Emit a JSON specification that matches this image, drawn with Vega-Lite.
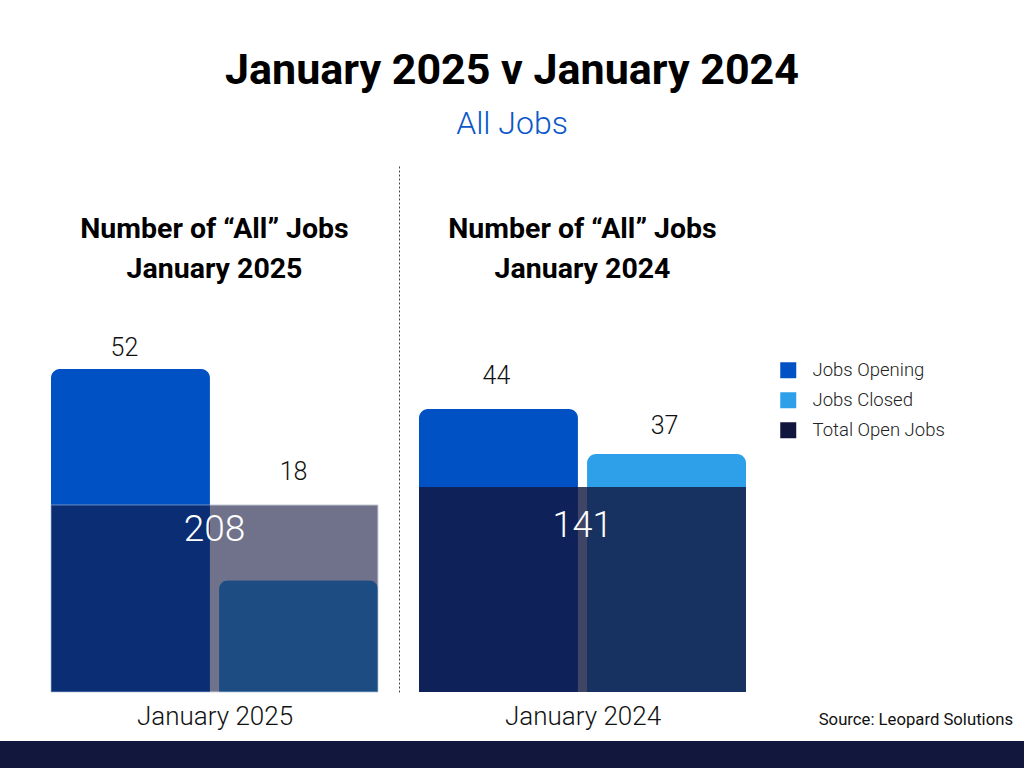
{
  "$schema": "https://vega.github.io/schema/vega-lite/v6.json",
  "padding": {"top": 50, "left": 0, "right": 0, "bottom": 0},
  "background": "white",
  "config": {
    "font": "Roboto",
    "view": {"stroke": null},
    "axis": {"grid": false}
  },
  "datasets": {
    "jobs2025": [
      {"series": "Jobs Opening", "value": 52},
      {"series": "Jobs Closed", "value": 18}
    ],
    "total2025": [{"series": "Total Open Jobs", "value": 208}],
    "jobs2024": [
      {"series": "Jobs Opening", "value": 44},
      {"series": "Jobs Closed", "value": 37}
    ],
    "total2024": [{"series": "Total Open Jobs", "value": 141}],
    "footer": [{"band": "footer"}]
  },
  "title": {
    "text": "January 2025 v January 2024",
    "subtitle": "All Jobs",
    "anchor": "middle",
    "frame": "group",
    "dx": 512,
    "fontSize": 43,
    "fontWeight": "bold",
    "color": "#000000",
    "subtitleFontSize": 32,
    "subtitleFontWeight": 300,
    "subtitleColor": "#0b57c9",
    "subtitlePadding": 16,
    "offset": 25
  },
  "vconcat": [
    {
      "hconcat": [
        {
          "data": {"name": "footer"},
          "width": 30,
          "height": 527,
          "mark": {"type": "text"},
          "encoding": {}
        },
        {
          "width": 327,
          "height": 527,
          "title": {
            "text": ["Number of “All” Jobs", "January 2025"],
            "fontSize": 28.5,
            "fontWeight": "bold",
            "lineHeight": 40,
            "color": "#000000",
            "anchor": "middle",
            "dy": 122
          },
          "layer": [
            {
              "data": {"name": "jobs2025"},
              "mark": {"type": "bar", "cornerRadiusTopLeft": 9, "cornerRadiusTopRight": 9},
              "encoding": {
                "x": {
                  "field": "series", "type": "nominal",
                  "sort": ["Jobs Opening", "Jobs Closed"],
                  "scale": {"paddingInner": 0.054, "paddingOuter": 0},
                  "axis": {"labels": false, "ticks": false, "domain": false, "title": "January 2025", "titleFontSize": 26, "titleFontWeight": 300, "titleColor": "#111111", "titlePadding": 11}
                },
                "y": {
                  "field": "value", "type": "quantitative",
                  "scale": {"domain": [0, 84.84], "nice": false},
                  "axis": null
                },
                "color": {
                  "field": "series", "type": "nominal",
                  "scale": {
                    "domain": ["Jobs Opening", "Jobs Closed", "Total Open Jobs"],
                    "range": ["#0052c4", "#2da0e9", "#11163e"]
                  },
                  "legend": {
                    "title": null,
                    "orient": "none",
                    "legendX": 779,
                    "legendY": 196,
                    "symbolType": "square",
                    "symbolSize": 256,
                    "symbolOpacity": 1,
                    "symbolStrokeWidth": 0,
                    "labelFontSize": 18.5,
                    "labelFontWeight": 300,
                    "labelColor": "#222222",
                    "labelOffset": 15,
                    "rowPadding": 11,
                    "encode": {"symbols": {"update": {"opacity": {"value": 1}, "fillOpacity": {"value": 1}}}}
                  }
                }
              }
            },
            {
              "data": {"name": "total2025"},
              "mark": {"type": "rect", "opacity": 0.6, "stroke": "#aeb1c2", "strokeWidth": 1},
              "encoding": {
                "y": {"field": "value", "type": "quantitative", "scale": {"domain": [0, 586], "nice": false}, "axis": null},
                "y2": {"datum": 0},
                "color": {"field": "series", "type": "nominal"}
              }
            },
            {
              "data": {"name": "jobs2025"},
              "transform": [{"filter": "datum.series === 'Jobs Opening'"}],
              "mark": {"type": "text", "dy": -21, "dx": -6, "fontSize": 25, "fontWeight": 300, "color": "#111111"},
              "encoding": {
                "x": {"field": "series", "type": "nominal", "sort": ["Jobs Opening", "Jobs Closed"]},
                "y": {"field": "value", "type": "quantitative", "scale": {"domain": [0, 84.84], "nice": false}, "axis": null},
                "text": {"field": "value", "type": "quantitative"}
              }
            },
            {
              "data": {"name": "jobs2025"},
              "transform": [{"filter": "datum.series === 'Jobs Closed'"}],
              "mark": {"type": "text", "dy": -108, "dx": -5, "fontSize": 25, "fontWeight": 300, "color": "#111111"},
              "encoding": {
                "x": {"field": "series", "type": "nominal", "sort": ["Jobs Opening", "Jobs Closed"]},
                "y": {"field": "value", "type": "quantitative", "scale": {"domain": [0, 84.84], "nice": false}, "axis": null},
                "text": {"field": "value", "type": "quantitative"}
              }
            },
            {
              "data": {"name": "total2025"},
              "mark": {"type": "text", "dy": 25, "fontSize": 37, "fontWeight": 300, "color": "#ffffff"},
              "encoding": {
                "y": {"field": "value", "type": "quantitative", "scale": {"domain": [0, 586], "nice": false}, "axis": null},
                "text": {"field": "value", "type": "quantitative"}
              }
            }
          ],
          "resolve": {"scale": {"y": "independent"}}
        },
        {
          "width": 327,
          "height": 527,
          "title": {
            "text": ["Number of “All” Jobs", "January 2024"],
            "fontSize": 28.5,
            "fontWeight": "bold",
            "lineHeight": 40,
            "color": "#000000",
            "anchor": "middle",
            "dy": 122
          },
          "layer": [
            {
              "data": {"name": "jobs2024"},
              "mark": {"type": "bar", "cornerRadiusTopLeft": 9, "cornerRadiusTopRight": 9},
              "encoding": {
                "x": {
                  "field": "series", "type": "nominal",
                  "sort": ["Jobs Opening", "Jobs Closed"],
                  "scale": {"paddingInner": 0.054, "paddingOuter": 0},
                  "axis": {"labels": false, "ticks": false, "domain": false, "title": "January 2024", "titleFontSize": 26, "titleFontWeight": 300, "titleColor": "#111111", "titlePadding": 11}
                },
                "y": {
                  "field": "value", "type": "quantitative",
                  "scale": {"domain": [0, 81.94], "nice": false},
                  "axis": {"labels": false, "ticks": false, "grid": false, "title": null, "domain": true, "domainColor": "#444444", "domainDash": [2, 2], "domainWidth": 1, "offset": 20}
                },
                "color": {"field": "series", "type": "nominal"}
              }
            },
            {
              "data": {"name": "total2024"},
              "mark": {"type": "rect", "opacity": 0.8},
              "encoding": {
                "y": {"field": "value", "type": "quantitative", "scale": {"domain": [0, 362.5], "nice": false}, "axis": null},
                "y2": {"datum": 0},
                "color": {"field": "series", "type": "nominal"}
              }
            },
            {
              "data": {"name": "jobs2024"},
              "transform": [{"filter": "datum.series === 'Jobs Opening'"}],
              "mark": {"type": "text", "dy": -33, "dx": -2, "fontSize": 25, "fontWeight": 300, "color": "#111111"},
              "encoding": {
                "x": {"field": "series", "type": "nominal", "sort": ["Jobs Opening", "Jobs Closed"]},
                "y": {"field": "value", "type": "quantitative", "scale": {"domain": [0, 81.94], "nice": false}, "axis": null},
                "text": {"field": "value", "type": "quantitative"}
              }
            },
            {
              "data": {"name": "jobs2024"},
              "transform": [{"filter": "datum.series === 'Jobs Closed'"}],
              "mark": {"type": "text", "dy": -28, "dx": -2, "fontSize": 25, "fontWeight": 300, "color": "#111111"},
              "encoding": {
                "x": {"field": "series", "type": "nominal", "sort": ["Jobs Opening", "Jobs Closed"]},
                "y": {"field": "value", "type": "quantitative", "scale": {"domain": [0, 81.94], "nice": false}, "axis": null},
                "text": {"field": "value", "type": "quantitative"}
              }
            },
            {
              "data": {"name": "total2024"},
              "mark": {"type": "text", "dy": 39, "fontSize": 36, "fontWeight": 300, "color": "#ffffff"},
              "encoding": {
                "y": {"field": "value", "type": "quantitative", "scale": {"domain": [0, 362.5], "nice": false}, "axis": null},
                "text": {"field": "value", "type": "quantitative"}
              }
            }
          ],
          "resolve": {"scale": {"y": "independent"}}
        }
      ],
      "spacing": 20
    },
    {
      "data": {"name": "footer"},
      "width": 1024,
      "height": 29,
      "view": {"fill": "#12173d", "stroke": null},
      "title": {
        "text": "Source: Leopard Solutions",
        "anchor": "end",
        "fontSize": 16.7,
        "fontWeight": "normal",
        "color": "#111111",
        "dx": -11,
        "offset": 12
      },
      "mark": {"type": "rect", "color": "#12173d"},
      "encoding": {}
    }
  ],
  "spacing": -17
}
